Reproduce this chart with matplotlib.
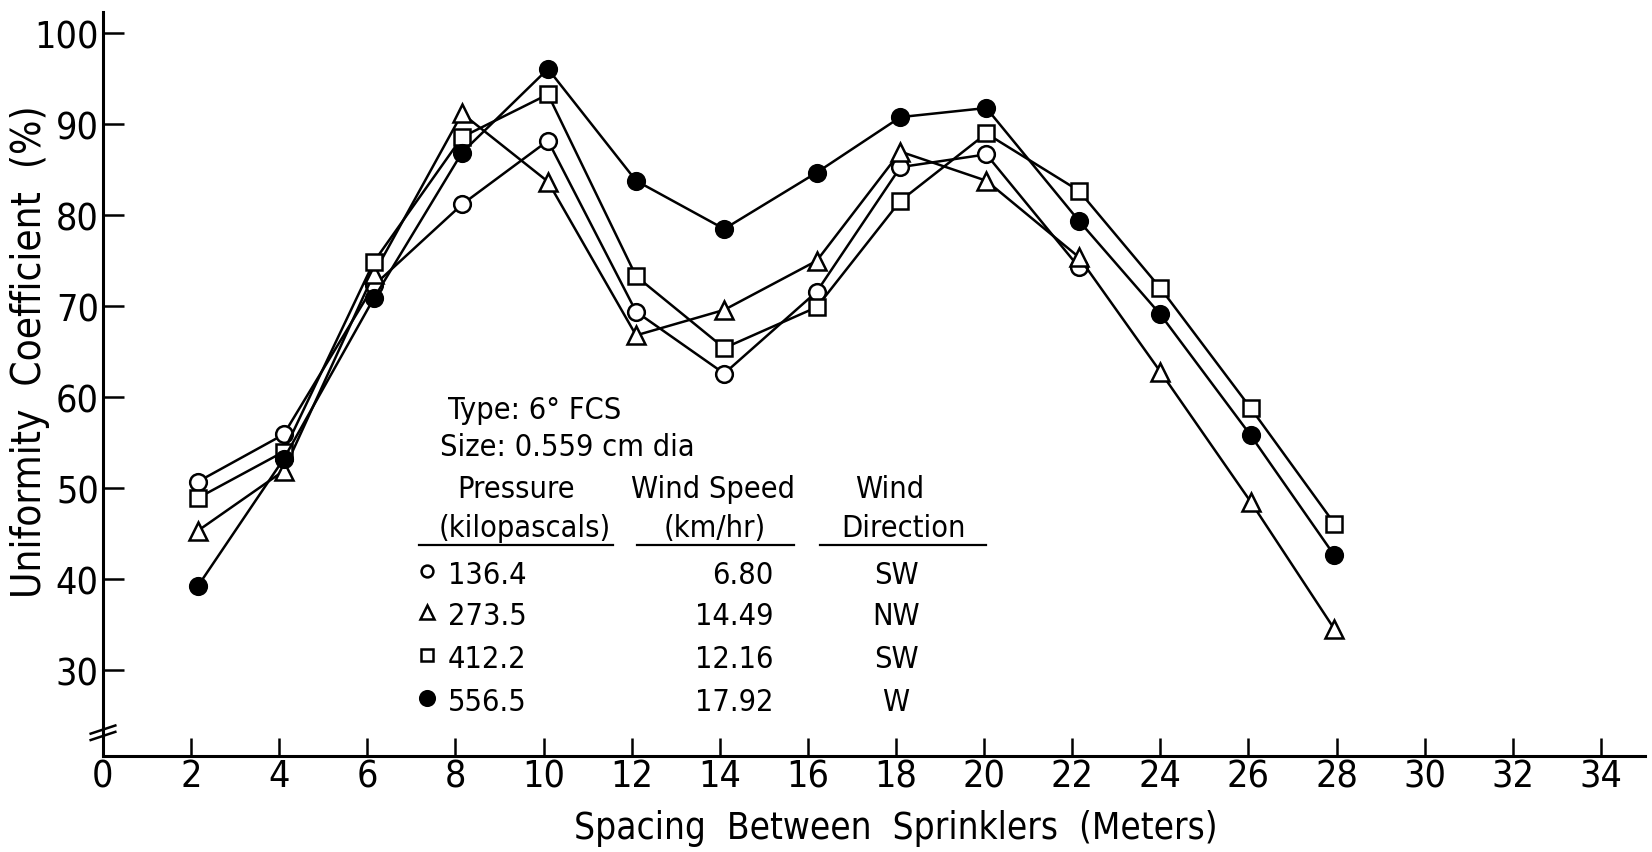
import matplotlib
matplotlib.use("Agg")
import matplotlib.pyplot as plt
from matplotlib import font_manager as fm
from matplotlib.lines import Line2D

# --- data: uniformity coefficient vs sprinkler spacing ---
spacing = [2.15, 4.1, 6.15, 8.15, 10.1, 12.1, 14.1, 16.2, 18.1, 20.05, 22.15, 24.0, 26.05, 27.95]

uc_136 = [50.7, 55.9, 72.3, 81.2, 88.2, 69.4, 62.6, 71.6, 85.3, 86.7, 74.3]
uc_273 = [45.3, 51.9, 73.6, 91.2, 83.7, 66.8, 69.6, 75.0, 87.0, 83.8, 75.4, 62.8, 48.5, 34.5]
uc_412 = [48.9, 54.0, 74.9, 88.6, 93.3, 73.3, 65.4, 69.9, 81.6, 89.0, 82.7, 72.0, 58.8, 46.1]
uc_556 = [39.2, 53.2, 70.9, 86.9, 96.1, 83.8, 78.5, 84.7, 90.8, 91.8, 79.4, 69.1, 55.8, 42.6]

pressures = ['136.4', '273.5', '412.2', '556.5']
wind_speeds = ['6.80', '14.49', '12.16', '17.92']
wind_dirs = ['SW', 'NW', 'SW', 'W']

xticks = list(range(0, 35, 2))
yticks = list(range(30, 101, 10))


def narrow_font():
    """Pick a condensed sans face if one is installed, else Liberation Sans."""
    wanted = ['DejaVu Sans', 'Noto Sans', 'Roboto', 'Open Sans', 'Liberation Sans Narrow']
    cond = ('condensed', 'semi-condensed', 'extra-condensed')
    for name in wanted:
        for f in fm.fontManager.ttflist:
            if (f.name == name and f.style == 'normal'
                    and f.weight in (400, 'normal', 'regular', 'book')
                    and (f.stretch in cond or name.endswith('Narrow'))):
                return f.fname
    return fm.findfont(fm.FontProperties(family='Liberation Sans'))


FONT_FILE = narrow_font()


def fp(size):
    return fm.FontProperties(fname=FONT_FILE, size=size)


W, H = 1652, 853
fig = plt.figure(figsize=(W / 100, H / 100), dpi=100)
fig.patch.set_facecolor('white')


def px(x, y):
    """pixel position (top-left origin) -> figure fraction"""
    return x / W, 1 - y / H


x0, y0 = 103, 756.5
x1, y1 = 1645, 12.6
ax = fig.add_axes([x0 / W, 1 - y0 / H, (x1 - x0) / W, (y0 - y1) / H])
ax.set_xlim(0, 35)
ax.set_ylim(20.6, 102.4)

for s in ['top', 'right']:
    ax.spines[s].set_visible(False)
for s in ['left', 'bottom']:
    ax.spines[s].set_linewidth(2.2)

ax.set_xticks(xticks)
ax.set_yticks(yticks)
ax.tick_params(axis='x', direction='in', length=13, width=1.8, pad=2)
ax.tick_params(axis='y', direction='in', length=15, width=1.8, pad=3)
for lab in ax.get_xticklabels() + ax.get_yticklabels():
    lab.set_fontproperties(fp(27))

series = [
    (uc_136, 'o', 'white', 12),
    (uc_273, '^', 'white', 13),
    (uc_412, 's', 'white', 11.5),
    (uc_556, 'o', 'black', 12),
]
for vals, mk, fc, ms in series:
    ax.plot(spacing[:len(vals)], vals, color='black', lw=1.8, marker=mk,
            markersize=ms, markerfacecolor=fc, markeredgecolor='black',
            markeredgewidth=1.8, clip_on=False)

# axis break on the y axis
brk = dict(color='black', lw=1.8, clip_on=False, transform=ax.transData)
ax.plot([-0.28, 0.28], [23.0, 23.9], **brk)
ax.plot([-0.28, 0.28], [22.3, 23.2], **brk)

fig.text(*px(30, 352), 'Uniformity  Coefficient  (%)', rotation=90,
         ha='center', va='center', fontproperties=fp(29))
fig.text(*px(896, 829), 'Spacing  Between  Sprinklers  (Meters)',
         ha='center', va='center', fontproperties=fp(26.5))

# --- legend block ---
fs = 22
fig.text(*px(448, 419), 'Type: 6° FCS', fontproperties=fp(fs), va='baseline')
fig.text(*px(440, 456), 'Size: 0.559 cm dia', fontproperties=fp(fs), va='baseline')

fig.text(*px(516, 498), 'Pressure', fontproperties=fp(fs), ha='center', va='baseline')
fig.text(*px(525, 537), '(kilopascals)', fontproperties=fp(fs), ha='center', va='baseline')
fig.text(*px(713, 498), 'Wind Speed', fontproperties=fp(fs), ha='center', va='baseline')
fig.text(*px(715, 537), '(km/hr)', fontproperties=fp(fs), ha='center', va='baseline')
fig.text(*px(890, 498), 'Wind', fontproperties=fp(fs), ha='center', va='baseline')
fig.text(*px(903, 537), 'Direction', fontproperties=fp(fs), ha='center', va='baseline')

for xa, xb in [(419, 613), (637, 794), (820, 986)]:
    (fa, ya), (fb, _) = px(xa, 546), px(xb, 546)
    fig.add_artist(Line2D([fa, fb], [ya, ya], color='black', lw=1.6))

legend_marks = [('o', 'white', 8.5), ('^', 'white', 9.5), ('s', 'white', 8), ('o', 'black', 10.5)]
row_base = [584, 625, 668, 711]
for (mk, fc, ms), p, ws, wd, yb in zip(legend_marks, pressures, wind_speeds, wind_dirs, row_base):
    mx, my = px(427, yb - 12)
    fig.add_artist(Line2D([mx], [my], marker=mk, markersize=ms, markerfacecolor=fc,
                          markeredgecolor='black', markeredgewidth=1.8, linestyle='none'))
    fig.text(*px(448, yb), p, fontproperties=fp(fs), va='baseline')
    fig.text(*px(773, yb), ws, fontproperties=fp(fs), ha='right', va='baseline')
    fig.text(*px(896, yb), wd, fontproperties=fp(fs), ha='center', va='baseline')

fig.savefig('out.png', dpi=100, facecolor='white')
